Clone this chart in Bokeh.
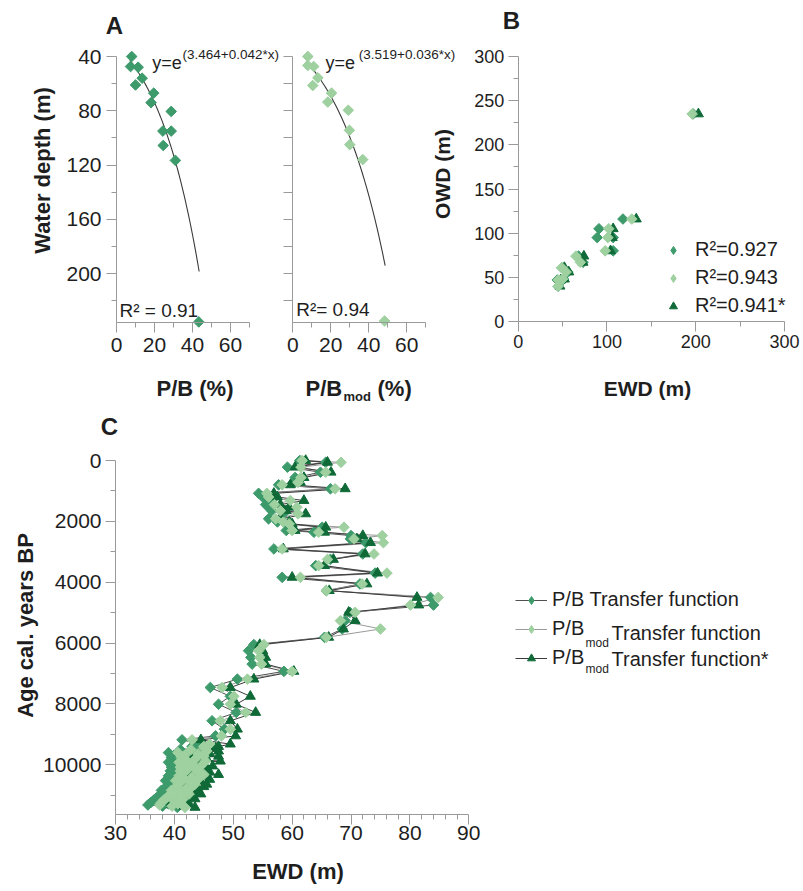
import math
from bokeh.plotting import figure
from bokeh.models import Range1d, FixedTicker, Label, Legend, LegendItem
from bokeh.layouts import column, row
from bokeh.embed import file_html
from bokeh.resources import INLINE

# ---------------- data ----------------
# Panel A (training set): P/B (%) vs water depth (m)
pb_pct = [8.0, 7.4, 11.4, 13.5, 10.0, 19.6, 18.2, 28.8, 24.4, 28.8, 24.6, 31.0, 43.3]
pb_depth = [40, 47.4, 47.9, 56, 61, 67, 74, 80.5, 95, 95, 105.6, 116.6, 235.7]
pbmod_pct = [7.9, 7.9, 11.0, 13.2, 10.5, 20.4, 18.4, 29.2, 29.8, 30.0, 36.8, 48.3]
pbmod_depth = [40, 46.6, 47.4, 55.7, 61.4, 67, 73.6, 79.6, 94.4, 105, 116, 235]
fit_pb = (3.464, 0.042)      # y = e^(a + b*x)
fit_pbmod = (3.519, 0.036)
fit_pb_x = (7.0, 43.5)
fit_pbmod_x = (7.0, 48.6)

# Panel B: EWD vs OWD
owd_b_pb = [40, 47, 48, 56, 61, 67, 74, 80, 95, 95, 105, 116, 235]
ewd_b_pb = [45, 44, 51, 56, 49, 73, 68, 107, 89, 107, 91, 118, 197]
owd_b_mod = [40, 47, 48, 56, 61, 67, 74, 80, 95, 105, 116, 235]
ewd_b_mod = [45, 45, 50, 54, 49, 70, 65, 98, 101, 102, 128, 196]
owd_b_star = [40, 47, 48, 56, 61, 67, 74, 80, 95, 105, 116, 235]
ewd_b_star = [47, 48, 52, 57, 52, 73, 74, 104, 106, 107, 133, 203]

# Panel C: downcore EWD reconstruction
age_c = [0, 60, 220, 385, 560, 720, 800, 930, 1080, 1200, 1316, 1450, 1536, 1650, 1754, 1918, 2020, 2083,
         2193, 2300, 2358, 2468, 2577, 2700, 2906, 3071, 3250, 3455, 3700, 3840, 4058, 4277, 4500, 4750,
         4990, 5264, 5537, 5811, 6050, 6250, 6470, 6690, 6930, 7185, 7460, 7750, 8010, 8280, 8554, 8830,
         9050, 9180, 9320, 9400,
         9450, 9500, 9550, 9600, 9640, 9680, 9720, 9760, 9800, 9840, 9880, 9920, 9960, 10000, 10040,
         10080, 10120, 10160, 10200, 10240, 10280, 10320, 10360, 10400, 10440, 10480, 10520, 10560, 10600,
         10640, 10680, 10720, 10760, 10800, 10840, 10880, 10920, 10960, 11000, 11040, 11080, 11120, 11160,
         11200, 11240, 11280, 11320, 11360, 11400]
ewd_c_pb = [61.3, 65.7, 59.2, 64.8, 60.5, 60.2, 57.7, 66.5, 54.3, 55.0, 56.5, 55.5, 56.0, 56.5, 58.5, 56.0,
            57.5, 58.9, 65.1, 59.0, 63.7, 70.0, 69.9, 72.5, 56.9, 72.0, 66.5, 64.0, 74.1, 58.3, 71.5, 65.8,
            83.5, 84.0, 69.8, 69.0, 68.5, 65.5, 53.5, 52.6, 53.0, 53.2, 58.6, 50.7, 46.1, 49.5, 47.5, 50.5,
            46.4, 48.5, 47.0, 41.3, 44.4, 43.0,
            43.5, 41.0, 44.0, 39.0, 42.5, 40.0, 43.5, 39.5, 42.0, 40.5, 44.0, 39.0, 41.5, 40.0, 43.0, 39.5,
            42.0, 40.5, 39.3, 42.5, 40.0, 43.5, 39.0, 41.5, 40.0, 42.5, 38.5, 41.0, 39.5, 42.0, 38.8, 41.5,
            39.0, 40.5, 37.8, 40.0, 38.5, 41.0, 37.5, 39.5, 37.0, 40.0, 36.5, 38.5, 36.0, 39.0, 35.5, 38.0,
            40.5]
ewd_c_mod = [61.7, 68.3, 61.5, 65.7, 61.5, 61.0, 58.3, 67.3, 55.7, 56.0, 59.7, 57.0, 60.8, 58.0, 61.0, 57.2,
             58.5, 59.5, 68.8, 60.0, 64.5, 75.3, 70.5, 75.5, 58.3, 73.9, 66.0, 64.5, 76.1, 61.4, 71.9, 65.8,
             84.8, 80.1, 70.7, 68.2, 75.0, 65.8, 55.2, 54.3, 54.5, 54.8, 60.0, 52.4, 48.1, 50.1, 49.5, 52.1,
             47.8, 49.5, 48.0, 43.0, 46.0, 45.0,
             45.0, 42.8, 45.5, 40.6, 44.0, 41.8, 45.0, 41.2, 43.6, 42.0, 45.3, 40.8, 43.0, 41.7, 44.5, 41.0,
             43.5, 42.2, 41.0, 44.0, 41.5, 45.0, 40.8, 43.0, 41.6, 44.0, 40.2, 42.6, 41.0, 43.5, 40.5, 43.0,
             40.6, 42.0, 39.5, 41.6, 40.0, 42.5, 39.2, 41.0, 38.7, 41.5, 38.2, 40.0, 37.8, 40.6, 37.5, 39.6,
             41.8]
ewd_c_star = [62.3, 66.0, 60.5, 66.6, 62.0, 61.4, 59.7, 69.0, 56.9, 57.5, 62.0, 58.0, 59.5, 59.0, 62.3, 58.2,
              59.5, 60.0, 65.7, 60.5, 65.5, 72.0, 71.0, 73.3, 58.5, 72.4, 67.0, 65.5, 74.5, 60.0, 72.7, 66.3,
              81.2, 81.5, 69.6, 70.7, 68.7, 66.2, 54.5, 55.0, 55.5, 55.5, 60.3, 53.5, 49.5, 52.9, 50.5, 53.8,
              49.5, 50.7, 50.4, 44.5, 49.5, 47.5,
              47.0, 44.5, 47.5, 42.5, 46.0, 43.5, 47.5, 43.0, 45.5, 44.0, 47.8, 42.5, 45.0, 43.5, 46.5, 43.0,
              45.5, 44.0, 42.8, 46.0, 43.5, 47.5, 42.5, 45.0, 43.5, 46.0, 42.0, 44.5, 43.0, 45.5, 42.3, 45.0,
              42.5, 44.0, 41.5, 43.5, 42.0, 44.5, 41.0, 43.0, 40.5, 43.5, 40.0, 42.0, 39.5, 42.5, 39.5, 41.5,
              43.5]

legend_b = ["R²=0.927", "R²=0.943", "R²=0.941*"]
legend_c = ["P/B Transfer function", "P/B", "P/B"]

# ---------------- style ----------------
FONT = "Liberation Sans"
C_MED = "#3d9a6b"
C_LIGHT = "#9fd1a0"
C_DARK = "#0f6a37"
AXC = "#9a9a9a"
TXT = "#1e1e1e"
DIAM = math.pi / 4
NAN = [float("nan")]   # legend-key renderers: nothing drawn in the plot area


def lin(m, px):
    v0, p0, v1, p1 = m
    return v0 + (px - p0) * (v1 - v0) / (p1 - p0)


def make_fig(w, h, ox, oy, xmap, ymap):
    """Figure whose frame fills the canvas; xmap/ymap = (value, local px, value, local px)."""
    p = figure(width=w, height=h,
               x_range=Range1d(lin(xmap, 0), lin(xmap, w)),
               y_range=Range1d(lin(ymap, h), lin(ymap, 0)),
               min_border_left=0, min_border_right=0, min_border_top=0, min_border_bottom=0,
               output_backend="svg", toolbar_location=None)
    p.grid.visible = False
    p.outline_line_color = None
    p.background_fill_color = "white"
    p.border_fill_color = "white"
    p.tags = [ox, oy, xmap, ymap]
    return p


def style_axes(p, tick_size, xfix, yfix, xb, yb, xstand, ystand):
    p.xaxis.fixed_location = xfix
    p.yaxis.fixed_location = yfix
    p.xaxis.bounds = xb
    p.yaxis.bounds = yb
    for ax in p.axis:
        ax.axis_line_color = AXC
        ax.major_tick_line_color = AXC
        ax.minor_tick_line_color = AXC
        ax.major_tick_out = 10
        ax.major_tick_in = 0
        ax.minor_tick_out = 5
        ax.minor_tick_in = 0
        ax.major_label_text_font = FONT
        ax.major_label_text_font_size = tick_size
        ax.major_label_text_color = TXT
    p.xaxis.major_label_standoff = xstand
    p.yaxis.major_label_standoff = ystand


def txt(p, text, gx, gy, size, bold=False, align="left", baseline="middle", angle=0.0):
    """Place text at page pixel (gx, gy) measured from the page's top-left corner."""
    ox, oy, xmap, ymap = p.tags
    p.add_layout(Label(x=lin(xmap, gx - ox), y=lin(ymap, gy - oy), text=text,
                       text_font=FONT, text_font_size=size,
                       text_font_style="bold" if bold else "normal",
                       text_align=align, text_baseline=baseline, angle=angle, text_color=TXT))


def fit_curve(coef, xr, n=60):
    a, b = coef
    xs = [xr[0] + (xr[1] - xr[0]) * i / n for i in range(n + 1)]
    return xs, [math.exp(a + b * x) for x in xs]


# ---------------- panel A ----------------
def panel_a(w, ox, x0px, pct, depth, color, coef, xr):
    p = make_fig(w, 405, ox, 0, (0, x0px, 60, x0px + 114), (40, 56, 200, 273))
    style_axes(p, "21px", 236, 0, (0, 70), (40, 236), 6, 5)
    p.xaxis.ticker = FixedTicker(ticks=[0, 20, 40, 60], minor_ticks=[10, 30, 50, 70])
    p.yaxis.ticker = FixedTicker(ticks=[40, 80, 120, 160, 200], minor_ticks=[60, 100, 140, 180, 220])
    fx, fy = fit_curve(coef, xr)
    p.line(fx, fy, line_color="#3a3a3a", line_width=1.1)
    p.scatter(pct, depth, marker="square", angle=DIAM, size=7.5, fill_color=color, line_color=color)
    return p


pa1 = panel_a(282, 0, 116, pb_pct, pb_depth, C_MED, fit_pb, fit_pb_x)
txt(pa1, "A", 114, 24.5, "24px", bold=True, align="center")
txt(pa1, "Water depth (m)", 42, 170, "22px", bold=True, align="center", angle=math.pi / 2)
txt(pa1, "P/B (%)", 194.5, 388, "22px", bold=True, align="center")
txt(pa1, "y=e", 151.7, 62.5, "18px", baseline="alphabetic")
txt(pa1, "(%.3f+%.3f*x)" % fit_pb, 182, 53.5, "13.5px", baseline="alphabetic")
txt(pa1, "R² = 0.91", 119, 310, "19px")

pa2 = panel_a(178, 282, 10.3, pbmod_pct, pbmod_depth, C_LIGHT, fit_pbmod, fit_pbmod_x)
pa2.yaxis.ticker = FixedTicker(ticks=[], minor_ticks=[40, 60, 80, 100, 120, 140, 160, 180, 200, 220])
pa2.yaxis.minor_tick_out = 9
txt(pa2, "y=e", 325, 62.5, "18px", baseline="alphabetic")
txt(pa2, "(%.3f+%.3f*x)" % fit_pbmod, 358.3, 53.5, "13.5px", baseline="alphabetic")
txt(pa2, "R²= 0.94", 295.7, 309, "19px")
txt(pa2, "P/B", 305, 388, "22px", bold=True)
txt(pa2, "mod", 343, 396, "13px", bold=True)
txt(pa2, "(%)", 377, 388, "22px", bold=True)
txt(pa2, "OWD (m)", 441.5, 173.5, "21px", bold=True, align="center", angle=math.pi / 2)

# ---------------- panel B ----------------
pb = make_fig(343, 405, 460, 0, (0, 57.7, 300, 324), (0, 321, 300, 56))
style_axes(pb, "18px", 0, 0, (0, 300), (0, 300), 3, 4)
pb.xaxis.ticker = FixedTicker(ticks=[0, 100, 200, 300], minor_ticks=[50, 150, 250])
pb.yaxis.ticker = FixedTicker(ticks=[0, 50, 100, 150, 200, 250, 300],
                              minor_ticks=[25, 75, 125, 175, 225, 275])
pb.scatter(ewd_b_pb, owd_b_pb, marker="square", angle=DIAM, size=7.5, fill_color=C_MED, line_color=C_MED)
pb.scatter(ewd_b_star, owd_b_star, marker="triangle", size=10, fill_color=C_DARK, line_color=C_DARK)
pb.scatter(ewd_b_mod, owd_b_mod, marker="square", angle=DIAM, size=7.5, fill_color=C_LIGHT, line_color=C_LIGHT)
kb1 = pb.scatter(NAN, NAN, marker="diamond", size=13, fill_color=C_MED, line_color=C_MED)
kb2 = pb.scatter(NAN, NAN, marker="diamond", size=13, fill_color=C_LIGHT, line_color=C_LIGHT)
kb3 = pb.scatter(NAN, NAN, marker="triangle", size=10, fill_color=C_DARK, line_color=C_DARK)
leg_b = Legend(items=[LegendItem(label=legend_b[0], renderers=[kb1]),
                      LegendItem(label=legend_b[1], renderers=[kb2]),
                      LegendItem(label=legend_b[2], renderers=[kb3])],
               location=(203, 88), padding=0, margin=0, spacing=5, glyph_width=20, glyph_height=20,
               label_height=20, label_standoff=12, border_line_color=None, background_fill_alpha=0,
               label_text_font=FONT, label_text_font_size="20px", label_text_color=TXT)
pb.add_layout(leg_b)
txt(pb, "B", 511, 20, "24px", bold=True, align="center")
txt(pb, "EWD (m)", 647, 388, "21px", bold=True, align="center")

# ---------------- panel C ----------------
pc = make_fig(803, 486, 0, 405, (30, 115, 90, 468.3), (0, 55, 10000, 359.3))
style_axes(pc, "21px", 11620, 30, (30, 90), (0, 11620), 2, 4)
pc.xaxis.ticker = FixedTicker(ticks=[30, 40, 50, 60, 70, 80, 90],
                              minor_ticks=[x for x in range(30, 91, 2) if x % 10])
pc.yaxis.ticker = FixedTicker(ticks=[0, 2000, 4000, 6000, 8000, 10000],
                              minor_ticks=[1000, 3000, 5000, 7000, 9000, 11000])
l1 = pc.line(ewd_c_pb, age_c, line_color="#505050", line_width=1)
l2 = pc.line(ewd_c_mod, age_c, line_color="#9a9a9a", line_width=1)
l3 = pc.line(ewd_c_star, age_c, line_color="#3a3a3a", line_width=1)
pc.scatter(ewd_c_pb, age_c, marker="square", angle=DIAM, size=7.5, fill_color=C_MED, line_color=C_MED)
pc.scatter(ewd_c_star, age_c, marker="triangle", size=10, fill_color=C_DARK, line_color=C_DARK)
pc.scatter(ewd_c_mod, age_c, marker="square", angle=DIAM, size=7.5, fill_color=C_LIGHT, line_color=C_LIGHT)
kc1 = pc.scatter(NAN, NAN, marker="diamond", size=12, fill_color=C_MED, line_color=C_MED)
kc2 = pc.scatter(NAN, NAN, marker="diamond", size=12, fill_color=C_LIGHT, line_color=C_LIGHT)
kc3 = pc.scatter(NAN, NAN, marker="triangle", size=10, fill_color=C_DARK, line_color=C_DARK)
leg_c = Legend(items=[LegendItem(label=legend_c[0], renderers=[l1, kc1]),
                      LegendItem(label=legend_c[1], renderers=[l2, kc2]),
                      LegendItem(label=legend_c[2], renderers=[l3, kc3])],
               location=(515, 222), padding=0, margin=0, spacing=6, glyph_width=32, glyph_height=20,
               label_height=20, label_standoff=5, border_line_color=None, background_fill_alpha=0,
               label_text_font=FONT, label_text_font_size="20px", label_text_color=TXT)
pc.add_layout(leg_c)
txt(pc, "mod", 585, 642.7, "12px")
txt(pc, "Transfer function", 611, 632.7, "20px")
txt(pc, "mod", 585, 668.7, "12px")
txt(pc, "Transfer function*", 611, 658.7, "20px")
txt(pc, "C", 109, 425.5, "24px", bold=True, align="center")
txt(pc, "Age cal. years BP", 25, 625, "22px", bold=True, align="center", angle=math.pi / 2)
txt(pc, "EWD (m)", 297.5, 871, "22px", bold=True, align="center")

layout = column(row(pa1, pa2, pb), pc)
open("out.html", "w").write(file_html(layout, INLINE))
